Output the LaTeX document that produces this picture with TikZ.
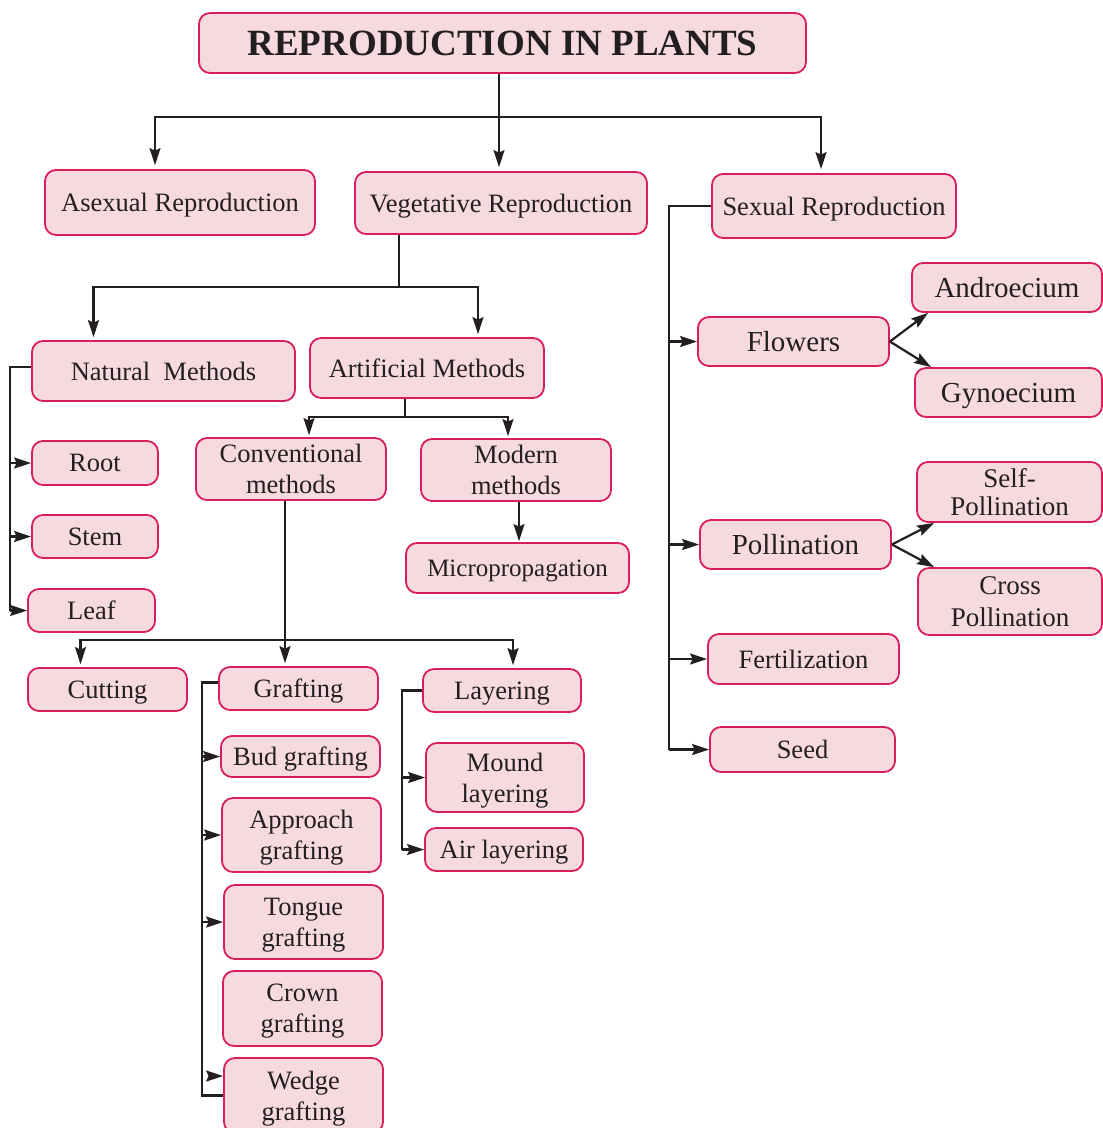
\documentclass[tikz,border=0pt]{standalone}
\usepackage{fontspec}
\setmainfont{Liberation Serif}
\usetikzlibrary{arrows.meta}
\definecolor{boxFill}{HTML}{F7DADF}
\definecolor{boxRim}{HTML}{D81E5B}
\definecolor{linkInk}{HTML}{231F20}

\begin{document}
\begin{tikzpicture}[x=1pt, y=-1pt,
    plantBox/.style={draw=boxRim, fill=boxFill, line width=1.8pt, rounded corners=11pt,
      align=center, inner sep=0pt, text depth=0pt, text=linkInk, font=\fontsize{26.5}{31}\selectfont},
    bigBox/.style={plantBox, font=\fontsize{29}{30}\selectfont},
    link/.style={draw=linkInk, line width=2.2pt},
    arr/.style={link, -{Stealth[length=17pt, width=11pt, inset=2.5pt]}}]
        \useasboundingbox (0,0) rectangle (1103,1128);
        % title and first level
        \node[plantBox, minimum width=607, minimum height=60, font=\fontsize{37}{40}\selectfont\bfseries] (title) at (502.5,43) {REPRODUCTION IN PLANTS};
        \node[plantBox, minimum width=270, minimum height=65] (asexual) at (180,202.5) {Asexual Reproduction};
        \node[plantBox, minimum width=292, minimum height=62] (vegetative) at (501,203) {Vegetative Reproduction};
        \node[plantBox, minimum width=244, minimum height=64] (sexual) at (834,206) {Sexual Reproduction};
        % vegetative branch
        \node[plantBox, minimum width=263, minimum height=60] (natural) at (163.5,371) {Natural\ \ Methods};
        \node[plantBox, minimum width=234, minimum height=60] (artificial) at (427,368) {Artificial Methods};
        \node[plantBox, minimum width=126, minimum height=44] (root) at (95,463) {Root};
        \node[plantBox, minimum width=126, minimum height=43] (stem) at (95,536.5) {Stem};
        \node[plantBox, minimum width=127, minimum height=43] (leaf) at (91.5,610.5) {Leaf};
        \node[plantBox, minimum width=190, minimum height=62] (conventional) at (291,469) {Conventional\\methods};
        \node[plantBox, minimum width=190, minimum height=62] (modern) at (516,470) {Modern\\methods};
        \node[plantBox, minimum width=223, minimum height=50, font=\fontsize{25}{30}\selectfont] (micro) at (517.5,568) {Micropropagation};
        \node[plantBox, minimum width=159, minimum height=43] (cutting) at (107.5,689.5) {Cutting};
        \node[plantBox, minimum width=159, minimum height=43] (grafting) at (298.5,688.5) {Grafting};
        \node[plantBox, minimum width=158, minimum height=43] (layering) at (502,690.5) {Layering};
        \node[plantBox, minimum width=159, minimum height=41] (bud) at (300.5,756.5) {Bud grafting};
        \node[plantBox, minimum width=159, minimum height=74] (approach) at (301.5,835) {Approach\\grafting};
        \node[plantBox, minimum width=159, minimum height=74] (tongue) at (303.5,922) {Tongue\\grafting};
        \node[plantBox, minimum width=159, minimum height=75] (crown) at (302.5,1008.5) {Crown\\grafting};
        \node[plantBox, minimum width=159, minimum height=75] (wedge) at (303.5,1095.5) {Wedge\\grafting};
        \node[plantBox, minimum width=158, minimum height=69] (mound) at (505,777.5) {Mound\\layering};
        \node[plantBox, minimum width=158, minimum height=43] (airlayer) at (504,849.5) {Air layering};
        % sexual branch
        \node[bigBox, minimum width=191, minimum height=49] (flowers) at (793.5,341.5) {Flowers};
        \node[bigBox, minimum width=190, minimum height=49] (androecium) at (1007,287.5) {Androecium};
        \node[bigBox, minimum width=187, minimum height=49] (gynoecium) at (1008.5,392.5) {Gynoecium};
        \node[bigBox, minimum width=191, minimum height=49] (pollination) at (795.5,544.5) {Pollination};
        \node[plantBox, minimum width=185, minimum height=60, font=\fontsize{27}{28}\selectfont] (selfpoll) at (1009.5,492) {Self-\\Pollination};
        \node[plantBox, minimum width=184, minimum height=67, font=\fontsize{27}{32}\selectfont] (crosspoll) at (1010,601.5) {Cross\\Pollination};
        \node[plantBox, minimum width=191, minimum height=50] (fertilization) at (803.5,659) {Fertilization};
        \node[plantBox, minimum width=185, minimum height=45] (seed) at (802.5,749.5) {Seed};

        % connectors
        \coordinate (topbus) at (499,117);
        \draw[link] (title.south -| topbus) -- (topbus);
        \draw[arr, shorten >=4pt] (topbus) -| ([xshift=-25pt]asexual.north);
        \draw[arr, shorten >=4pt] (topbus) -- (vegetative.north -| topbus);
        \draw[arr, shorten >=4pt] (topbus) -| ([xshift=-13pt]sexual.north);

        \coordinate (vegbus) at (399,287);
        \draw[link] (vegetative.south -| vegbus) -- (vegbus);
        \draw[arr, shorten >=3pt] (vegbus) -| ([xshift=-70pt]natural.north);
        \draw[arr, shorten >=3pt] (vegbus) -| ([xshift=51pt]artificial.north);

        \coordinate (natbar) at (10,0);
        \draw[link] ([yshift=4pt]natural.west) -| (natbar |- leaf);
        \foreach \k in {root,stem,leaf}
          \draw[arr] (natbar |- \k) -- (\k.west);

        \coordinate (artbus) at (405,417);
        \draw[link] (artificial.south -| artbus) -- (artbus);
        \draw[arr, shorten >=2pt] (artbus) -| ([xshift=18pt]conventional.north);
        \draw[arr, shorten >=2pt] (artbus) -| ([xshift=-8pt]modern.north);
        \draw[arr, shorten >=1pt] ([xshift=3pt]modern.south) -- ([xshift=3pt]modern.south |- micro.north);

        \coordinate (convbus) at (285,640);
        \draw[link] (conventional.south -| convbus) -- (convbus);
        \draw[arr, shorten >=3pt] (convbus) -| ([xshift=-27pt]cutting.north);
        \draw[arr, shorten >=3pt] (convbus) -- (grafting.north -| convbus);
        \draw[arr, shorten >=3pt] (convbus) -| ([xshift=11pt]layering.north);

        \coordinate (graftbar) at (202,0);
        \draw[link] ([yshift=6pt]grafting.west) -| (graftbar |- wedge.west) -- (wedge.west);
        \foreach \k in {bud,approach,tongue}
          \draw[arr] (graftbar |- \k) -- (\k.west);
        \coordinate (wedgestub) at (209,1076);
        \draw[arr] (wedgestub) -- (wedge.west |- wedgestub);

        \coordinate (layerbar) at (402,0);
        \draw[link] (layering.west) -| (layerbar |- airlayer);
        \foreach \k in {mound,airlayer}
          \draw[arr] (layerbar |- \k) -- (\k.west);

        \coordinate (sexbar) at (669,0);
        \draw[link] (sexual.west) -| (sexbar |- seed);
        \foreach \k in {flowers,pollination,fertilization,seed}
          \draw[arr] (sexbar |- \k) -- (\k.west);

        \draw[arr] (flowers.east) -- ([xshift=17pt]androecium.south west);
        \draw[arr] (flowers.east) -- ([xshift=17pt]gynoecium.north west);
        \draw[arr] (pollination.east) -- ([xshift=18pt]selfpoll.south west);
        \draw[arr] (pollination.east) -- ([xshift=17pt]crosspoll.north west);
      \end{tikzpicture}
\end{document}
